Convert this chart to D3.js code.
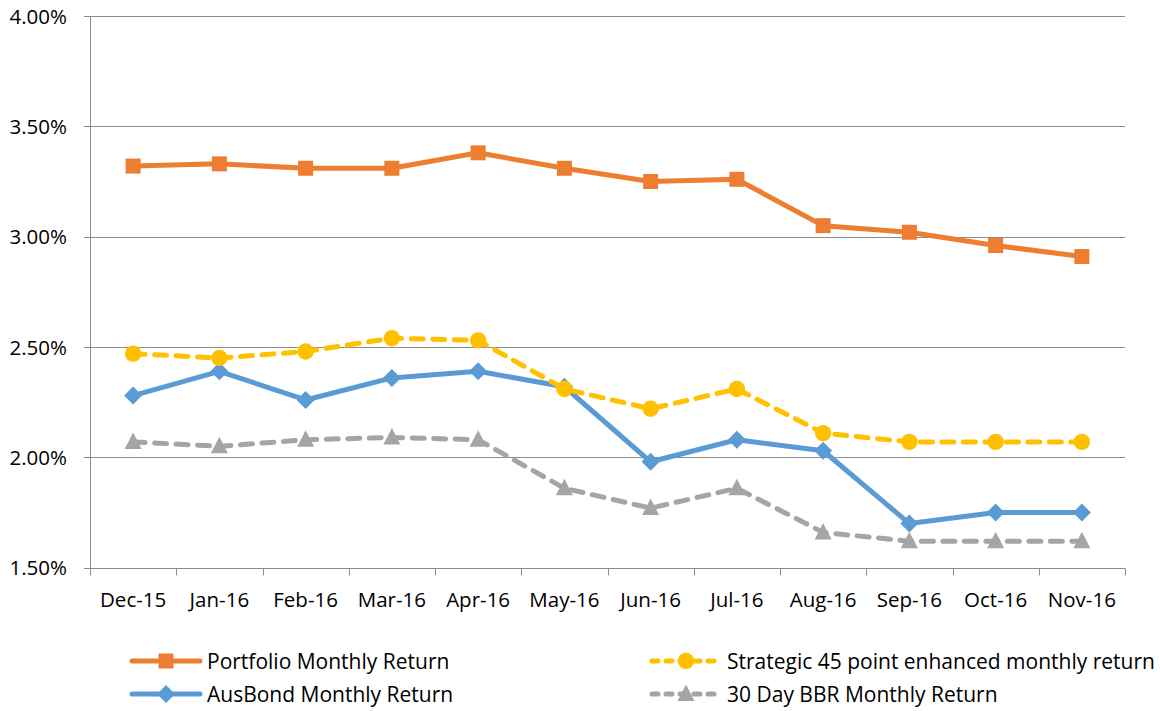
<!DOCTYPE html>
<html>
<head>
<meta charset="utf-8">
<script src="https://cdn.jsdelivr.net/npm/d3@7"></script>
<style>
  body { margin: 0; background: #fff; }
  text { font-family: "Open Sans", "Liberation Sans", sans-serif; fill: #000; }
</style>
</head>
<body>
<script>
const months = ["Dec-15", "Jan-16", "Feb-16", "Mar-16", "Apr-16", "May-16", "Jun-16", "Jul-16", "Aug-16", "Sep-16", "Oct-16", "Nov-16"];
const portfolio = [3.32, 3.33, 3.31, 3.31, 3.38, 3.31, 3.25, 3.26, 3.05, 3.02, 2.96, 2.91];
const strategic = [2.47, 2.45, 2.48, 2.54, 2.53, 2.31, 2.22, 2.31, 2.11, 2.07, 2.07, 2.07];
const ausbond = [2.28, 2.39, 2.26, 2.36, 2.39, 2.32, 1.98, 2.08, 2.03, 1.70, 1.75, 1.75];
const bbr = [2.07, 2.05, 2.08, 2.09, 2.08, 1.86, 1.77, 1.86, 1.66, 1.62, 1.62, 1.62];
const yTicks = [1.5, 2.0, 2.5, 3.0, 3.5, 4.0];

const w = 1160, h = 711;
const margin = { left: 90, right: 35, top: 16, bottom: 144 };
const fontSize = "20.5px";

const series = [
  { name: "Portfolio Monthly Return", values: portfolio, color: "#ED7D31", dash: null, marker: "square" },
  { name: "Strategic 45 point enhanced monthly return", values: strategic, color: "#FFC000", dash: "12,9.5", marker: "circle" },
  { name: "AusBond Monthly Return", values: ausbond, color: "#5B9BD5", dash: null, marker: "diamond" },
  { name: "30 Day BBR Monthly Return", values: bbr, color: "#A5A5A5", dash: "12,9.5", marker: "triangle" }
];

const svg = d3.select("body").append("svg")
  .attr("width", w)
  .attr("height", h);

const x = d3.scaleBand()
  .domain(months)
  .range([margin.left, w - margin.right]);

const y = d3.scaleLinear()
  .domain([1.5, 4.0])
  .range([h - margin.bottom + 0.7, margin.top]);

// gridlines
svg.append("g")
  .selectAll("line")
  .data(yTicks)
  .enter().append("line")
  .attr("x1", margin.left - 6)
  .attr("x2", w - margin.right)
  .attr("y1", d => Math.round(y(d)) + 0.5)
  .attr("y2", d => Math.round(y(d)) + 0.5)
  .attr("stroke", "#8c8c8c")
  .attr("stroke-width", 1);

// y labels
svg.append("g")
  .selectAll("text")
  .data(yTicks)
  .enter().append("text")
  .text(d => d.toFixed(2) + "%")
  .attr("x", 67)
  .attr("y", d => y(d) + 7.5)
  .attr("text-anchor", "end")
  .attr("font-size", fontSize);

// y axis line
svg.append("line")
  .attr("x1", margin.left + 0.5).attr("x2", margin.left + 0.5)
  .attr("y1", y(4.0)).attr("y2", y(1.5) + 6)
  .attr("stroke", "#8c8c8c");

// x axis
const gx = svg.append("g")
  .attr("transform", "translate(0," + (Math.round(y(1.5)) + 0.5) + ")");
gx.append("line")
  .attr("x1", margin.left).attr("x2", w - margin.right)
  .attr("stroke", "#8c8c8c");
gx.selectAll(".tk")
  .data(months.concat(["end"]))
  .enter().append("line")
  .attr("x1", (d, i) => Math.round(margin.left + i * x.bandwidth()) + 0.5)
  .attr("x2", (d, i) => Math.round(margin.left + i * x.bandwidth()) + 0.5)
  .attr("y1", 0).attr("y2", 7)
  .attr("stroke", "#8c8c8c");
gx.selectAll(".xl")
  .data(months)
  .enter().append("text")
  .text(d => d)
  .attr("x", d => x(d) + x.bandwidth() / 2)
  .attr("y", 38)
  .attr("text-anchor", "middle")
  .attr("font-size", fontSize);

function drawMarker(g, type, cx, cy, color) {
  if (type === "square") {
    g.append("rect").attr("x", cx - 7.5).attr("y", cy - 7.5).attr("width", 15).attr("height", 15).attr("fill", color);
  } else if (type === "circle") {
    g.append("circle").attr("cx", cx).attr("cy", cy).attr("r", 8.2).attr("fill", color);
  } else if (type === "diamond") {
    g.append("path").attr("d", `M${cx},${cy - 9}L${cx + 9},${cy}L${cx},${cy + 9}L${cx - 9},${cy}Z`).attr("fill", color);
  } else {
    g.append("path").attr("d", `M${cx},${cy - 9.5}L${cx + 8.5},${cy + 7}L${cx - 8.5},${cy + 7}Z`).attr("fill", color);
  }
}

const line = d3.line()
  .x((d, i) => x(months[i]) + x.bandwidth() / 2)
  .y(d => y(d));

// draw order: bottom first
[series[3], series[2], series[1], series[0]].forEach(s => {
  const g = svg.append("g");
  g.append("path")
    .datum(s.values)
    .attr("d", line)
    .attr("fill", "none")
    .attr("stroke", s.color)
    .attr("stroke-width", 5)
    .attr("stroke-linejoin", "round")
    .attr("stroke-linecap", s.dash ? "round" : "butt")
    .attr("stroke-dasharray", s.dash);
  s.values.forEach((v, i) => drawMarker(g, s.marker, x(months[i]) + x.bandwidth() / 2, y(v), s.color));
});

// legend
const legendPos = [
  { lx: 130, ly: 661 },
  { lx: 650, ly: 661 },
  { lx: 130, ly: 694 },
  { lx: 650, ly: 694 }
];
series.forEach((s, i) => {
  const p = legendPos[i];
  const g = svg.append("g");
  g.append("line")
    .attr("x1", p.lx + 2).attr("x2", p.lx + 70)
    .attr("y1", p.ly).attr("y2", p.ly)
    .attr("stroke", s.color)
    .attr("stroke-width", 5)
    .attr("stroke-linecap", "round")
    .attr("stroke-dasharray", s.dash ? "6,8" : null);
  drawMarker(g, s.marker, p.lx + 36, p.ly, s.color);
  g.append("text")
    .text(s.name)
    .attr("x", p.lx + 77)
    .attr("y", p.ly + 7.5)
    .attr("font-size", "21px");
});
</script>
</body>
</html>
